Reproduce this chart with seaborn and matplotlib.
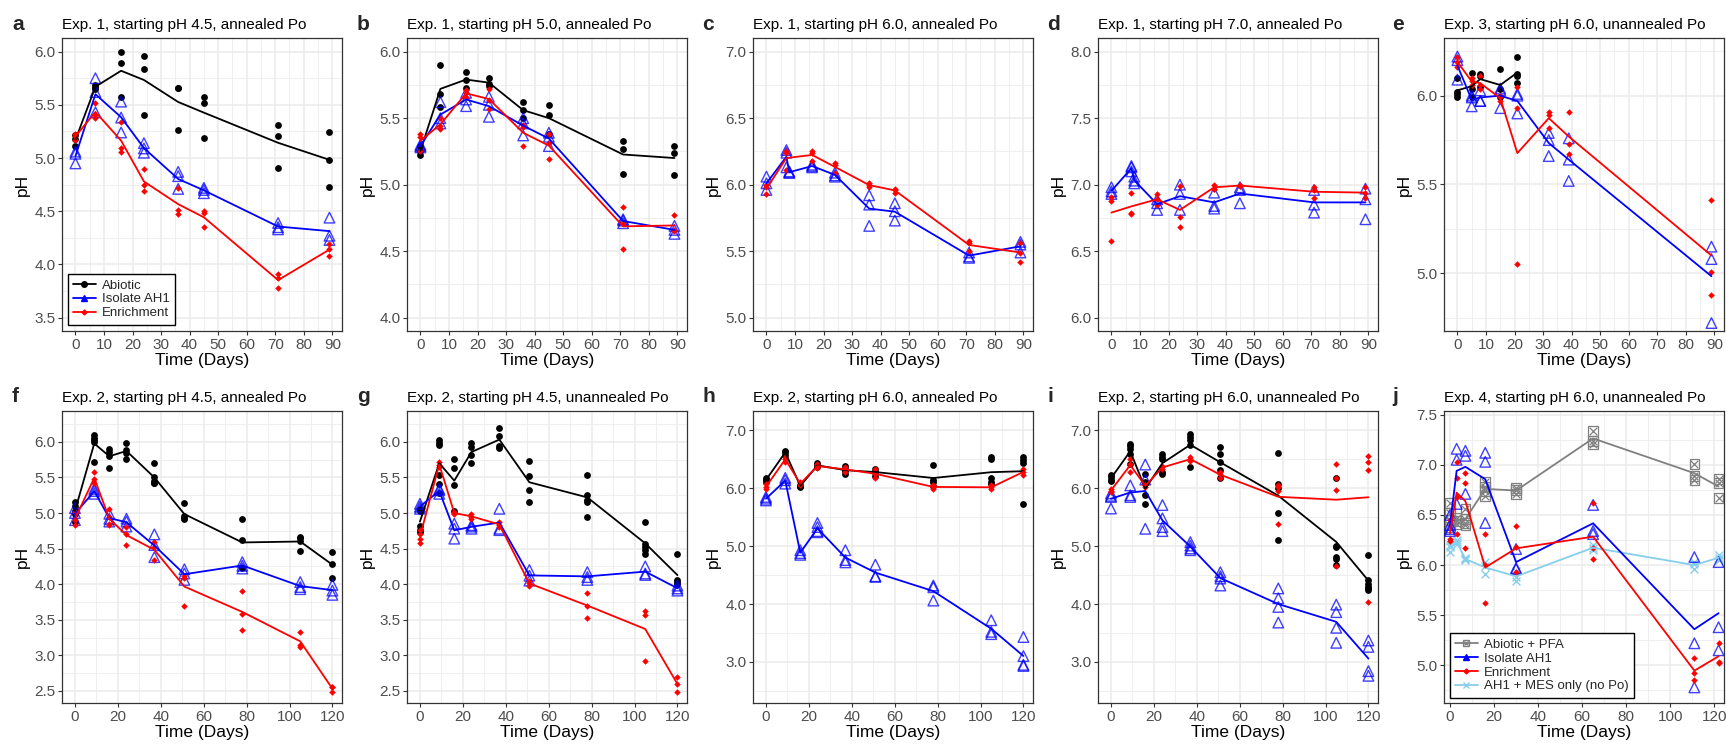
import numpy as np
import pandas as pd
import matplotlib
matplotlib.use("Agg")
import matplotlib.pyplot as plt
import seaborn as sns
from matplotlib.lines import Line2D
from matplotlib.ticker import MultipleLocator, FormatStrFormatter
from matplotlib.legend_handler import HandlerTuple

# ---------------- data ----------------
EXP1_DAYS = [0, 7, 16, 24, 36, 45, 71, 89]
EXP1_ISO_DAYS_CD = [0, 7, 8, 16, 24, 36, 45, 71, 89]
EXP3_DAYS = [0, 5, 8, 15, 21, 32, 39, 89]
EXP3_ABIO_DAYS = [0, 5, 8, 15, 21]
EXP2_DAYS = [0, 9, 16, 24, 37, 51, 78, 105, 120]
EXP4_DAYS = [0, 3, 7, 16, 30, 65, 111, 122]

A_ABIOTIC = [[5.22, 5.18, 5.11], [5.69, 5.67, 5.65], [6.00, 5.89, 5.57], [5.96, 5.84, 5.40],
             [5.66, 5.66, 5.26], [5.57, 5.52, 5.19], [5.31, 5.21, 4.91], [5.24, 4.98, 4.73]]
A_ISOLATE = [[5.06, 5.04, 4.95], [5.75, 5.62, 5.43], [5.53, 5.38, 5.24], [5.14, 5.09, 5.05],
             [4.87, 4.83, 4.71], [4.72, 4.70, 4.67], [4.39, 4.35, 4.33], [4.44, 4.27, 4.23]]
A_ENRICH = [[5.23, 5.21, 5.17], [5.52, 5.40, 5.38], [5.34, 5.09, 5.06], [4.90, 4.75, 4.69],
            [4.72, 4.51, 4.47], [4.50, 4.48, 4.35], [3.91, 3.87, 3.78], [4.19, 4.15, 4.08]]

B_ABIOTIC = [[5.29, 5.25, 5.22], [5.90, 5.68, 5.58], [5.85, 5.79, 5.73], [5.80, 5.76, 5.74],
             [5.62, 5.56, 5.50], [5.60, 5.52, 5.38], [5.33, 5.27, 5.08], [5.29, 5.24, 5.07]]
B_ISOLATE = [[5.30, 5.29, 5.28], [5.62, 5.50, 5.46], [5.69, 5.64, 5.59], [5.66, 5.60, 5.51],
             [5.50, 5.46, 5.37], [5.39, 5.36, 5.29], [4.74, 4.73, 4.71], [4.69, 4.66, 4.63]]
B_ENRICH = [[5.38, 5.36, 5.25], [5.50, 5.44, 5.42], [5.71, 5.69, 5.66], [5.72, 5.64, 5.57],
            [5.45, 5.43, 5.29], [5.38, 5.31, 5.19], [4.83, 4.71, 4.52], [4.77, 4.66, 4.65]]

C_ISOLATE = [[6.06, 6.01, 5.96], [6.26, 6.24, 6.13], [6.10, 6.09, 6.09], [6.15, 6.14, 6.13],
             [6.09, 6.07, 6.06], [5.92, 5.85, 5.69], [5.86, 5.80, 5.73], [5.49, 5.46, 5.45],
             [5.57, 5.55, 5.49]]
C_ENRICH = [[6.00, 5.98, 5.93], [6.25, 6.24, 6.11], [6.25, 6.24, 6.18], [6.16, 6.15, 6.09],
            [6.01, 6.00, 5.98], [5.97, 5.96, 5.94], [5.58, 5.56, 5.50], [5.56, 5.49, 5.42]]

D_ISOLATE = [[6.98, 6.95, 6.93], [7.14, 7.13, 7.10], [7.06, 7.03, 7.01], [6.89, 6.86, 6.81],
             [7.00, 6.93, 6.81], [6.94, 6.84, 6.82], [6.98, 6.96, 6.86], [6.96, 6.85, 6.79],
             [6.97, 6.89, 6.74]]
D_ENRICH = [[6.91, 6.88, 6.58], [6.94, 6.79, 6.78], [6.93, 6.89, 6.85], [6.99, 6.76, 6.68],
            [7.00, 6.97, 6.97], [7.00, 6.99, 6.99], [6.98, 6.96, 6.90], [6.98, 6.94, 6.90]]

E_ABIOTIC = [[6.10, 6.02, 6.01, 5.99], [6.13, 6.04, 5.99], [6.12, 6.11, 6.05],
             [6.15, 6.04, 5.99], [6.22, 6.12, 6.11, 6.07]]
E_ISOLATE = [[6.22, 6.20, 6.09], [6.00, 5.99, 5.94], [6.03, 5.97, 5.97], [6.04, 6.03, 5.93],
             [6.01, 6.00, 5.90], [5.79, 5.75, 5.66], [5.76, 5.64, 5.52], [5.15, 5.08, 4.72]]
E_ENRICH = [[6.22, 6.19, 6.16], [6.10, 6.08, 6.06], [6.11, 6.06, 6.04], [6.00, 5.99, 5.97],
            [6.05, 5.93, 5.05], [5.91, 5.89, 5.82], [5.91, 5.73, 5.67], [5.41, 5.01, 4.88]]

F_ABIOTIC = [[5.16, 5.10, 5.03, 4.98, 4.88], [6.09, 6.06, 6.02, 6.00, 5.72], [5.90, 5.86, 5.80, 5.63],
             [5.99, 5.89, 5.85, 5.76], [5.71, 5.50, 5.45, 5.42, 5.42], [5.14, 4.96, 4.93, 4.91],
             [4.91, 4.62, 4.23], [4.67, 4.65, 4.61, 4.47], [4.45, 4.28, 4.09]]
F_ISOLATE = [[5.07, 5.00, 4.90], [5.34, 5.31, 5.27], [4.99, 4.92, 4.88], [4.92, 4.88, 4.81],
             [4.70, 4.55, 4.38], [4.21, 4.15, 4.06], [4.31, 4.26, 4.22], [4.03, 3.96, 3.93],
             [3.99, 3.91, 3.85]]
F_ENRICH = [[5.02, 4.90, 4.83], [5.58, 5.48, 5.42], [5.05, 4.95, 4.85, 4.83], [4.81, 4.71, 4.55],
            [4.59, 4.52, 4.34], [4.09, 4.12, 3.69], [3.90, 3.58, 3.35], [3.33, 3.14, 3.12],
            [2.56, 2.55, 2.48]]

G_ABIOTIC = [[5.05, 5.03, 4.82, 4.76, 4.74], [6.02, 5.99, 5.96, 5.54, 5.41, 5.28],
             [5.76, 5.64, 5.39, 5.03], [5.99, 5.93, 5.81, 5.70], [6.19, 6.08, 5.94, 5.92],
             [5.73, 5.52, 5.32, 5.16], [5.54, 5.26, 5.19, 5.16, 4.95],
             [4.87, 4.57, 4.52, 4.48, 4.43], [4.42, 4.06, 4.03, 4.00]]
G_ISOLATE = [[5.13, 5.09, 5.06], [5.34, 5.32, 5.27], [4.85, 4.78, 4.64], [4.83, 4.81, 4.78],
             [5.06, 4.78, 4.76], [4.20, 4.12, 4.05], [4.17, 4.10, 4.06], [4.25, 4.15, 4.13],
             [3.98, 3.94, 3.91]]
G_ENRICH = [[4.76, 4.70, 4.64, 4.58], [5.72, 5.68, 5.65], [5.02, 5.00, 4.98], [4.99, 4.95, 4.92],
            [4.88, 4.83, 4.81], [4.04, 4.01, 3.98], [3.88, 3.70, 3.52], [3.62, 3.57, 2.92],
            [2.70, 2.60, 2.49]]

H_ABIOTIC = [[6.18, 6.14, 6.11], [6.65, 6.63, 6.58], [6.06, 6.04, 6.02], [6.43, 6.40, 6.36],
             [6.38, 6.33, 6.29, 6.25], [6.34, 6.28, 6.22], [6.41, 6.15, 6.11, 6.04],
             [6.54, 6.50, 6.17, 6.11, 6.07], [6.54, 6.48, 6.44, 5.72]]
H_ISOLATE = [[5.85, 5.82, 5.79], [6.18, 6.14, 6.08], [4.93, 4.88, 4.85], [5.40, 5.33, 5.26, 5.24],
             [4.93, 4.76, 4.72], [4.68, 4.48, 4.47], [4.32, 4.29, 4.06], [3.72, 3.52, 3.48],
             [3.43, 3.10, 2.95, 2.93]]
H_ENRICH = [[6.08, 6.02, 5.98], [6.54, 6.51, 6.45], [6.11, 6.08, 6.05], [6.42, 6.38, 6.35],
            [6.37, 6.33, 6.28], [6.33, 6.25, 6.17], [6.06, 6.02, 5.99], [6.05, 6.02, 5.98],
            [6.34, 6.28, 6.23]]

I_ABIOTIC = [[6.23, 6.19, 6.15, 6.12], [6.77, 6.73, 6.68, 6.60, 6.42], [6.25, 6.11, 5.88, 5.73],
             [6.60, 6.54, 6.50, 6.28, 6.25], [6.94, 6.88, 6.83, 6.74, 6.37],
             [6.71, 6.60, 6.45, 6.31, 6.17], [6.61, 6.08, 6.00, 5.57, 5.10],
             [6.18, 5.01, 4.99, 4.81, 4.78, 4.67], [4.85, 4.41, 4.35, 4.30, 4.27, 4.24]]
I_ISOLATE = [[5.91, 5.87, 5.85, 5.65], [6.05, 5.88, 5.85], [6.41, 6.15, 5.30],
             [5.71, 5.48, 5.33, 5.26], [5.07, 5.01, 4.96, 4.93], [4.55, 4.48, 4.44, 4.32],
             [4.27, 4.10, 3.95, 3.68], [3.99, 3.86, 3.59, 3.33], [3.37, 3.26, 2.84, 2.76]]
I_ENRICH = [[5.99, 5.96, 5.94], [6.50, 6.42, 6.28], [6.06, 6.05, 6.02], [6.38, 6.36, 6.34],
            [6.54, 6.50, 6.47], [6.28, 6.25, 6.17], [6.05, 6.02, 5.95, 5.39],
            [6.42, 6.17, 5.97, 4.65], [6.56, 6.46, 6.32, 4.04]]

J_PFA = [[6.62, 6.52, 6.45, 6.38], [6.47, 6.44, 6.41], [6.56, 6.46, 6.42, 6.40],
         [6.83, 6.78, 6.74, 6.69], [6.77, 6.75, 6.71], [7.34, 7.24, 7.21], [7.01, 6.89, 6.85],
         [6.86, 6.82, 6.67]]
J_ISOLATE = [[6.50, 6.40, 6.36, 6.34], [7.16, 7.05, 6.61], [7.14, 7.09, 6.71], [7.12, 7.03, 6.42],
             [6.16, 5.97, 5.96], [6.60, 6.34, 6.31], [6.08, 5.22, 4.78], [6.03, 5.38, 5.15]]
J_ENRICH = [[6.45, 6.26, 6.24], [7.03, 6.87, 6.68, 6.31], [6.92, 6.82, 6.17], [6.31, 6.00, 5.62],
            [6.39, 6.18, 5.93], [6.62, 6.17, 6.06], [5.07, 4.92, 4.85], [5.22, 5.03, 5.02]]
J_MES = [[6.20, 6.18, 6.13], [6.25, 6.23, 6.21], [6.07, 6.06, 6.05], [6.03, 5.99, 5.91],
         [5.94, 5.88, 5.84], [6.20, 6.17, 6.15], [6.03, 6.01, 5.96], [6.10, 6.07, 6.05]]

LETTERS = ["a", "b", "c", "d", "e", "f", "g", "h", "i", "j"]
TITLES = ["Exp. 1, starting pH 4.5, annealed Po", "Exp. 1, starting pH 5.0, annealed Po",
          "Exp. 1, starting pH 6.0, annealed Po", "Exp. 1, starting pH 7.0, annealed Po",
          "Exp. 3, starting pH 6.0, unannealed Po", "Exp. 2, starting pH 4.5, annealed Po",
          "Exp. 2, starting pH 4.5, unannealed Po", "Exp. 2, starting pH 6.0, annealed Po",
          "Exp. 2, starting pH 6.0, unannealed Po", "Exp. 4, starting pH 6.0, unannealed Po"]
LEGEND_1 = ["Abiotic", "Isolate AH1", "Enrichment"]
LEGEND_4 = ["Abiotic + PFA", "Isolate AH1", "Enrichment", "AH1 + MES only (no Po)"]

PANEL_SERIES = [
    [("abiotic", EXP1_DAYS, A_ABIOTIC), ("isolate", EXP1_DAYS, A_ISOLATE), ("enrich", EXP1_DAYS, A_ENRICH)],
    [("abiotic", EXP1_DAYS, B_ABIOTIC), ("isolate", EXP1_DAYS, B_ISOLATE), ("enrich", EXP1_DAYS, B_ENRICH)],
    [("isolate", EXP1_ISO_DAYS_CD, C_ISOLATE), ("enrich", EXP1_DAYS, C_ENRICH)],
    [("isolate", EXP1_ISO_DAYS_CD, D_ISOLATE), ("enrich", EXP1_DAYS, D_ENRICH)],
    [("abiotic", EXP3_ABIO_DAYS, E_ABIOTIC), ("isolate", EXP3_DAYS, E_ISOLATE), ("enrich", EXP3_DAYS, E_ENRICH)],
    [("abiotic", EXP2_DAYS, F_ABIOTIC), ("isolate", EXP2_DAYS, F_ISOLATE), ("enrich", EXP2_DAYS, F_ENRICH)],
    [("abiotic", EXP2_DAYS, G_ABIOTIC), ("isolate", EXP2_DAYS, G_ISOLATE), ("enrich", EXP2_DAYS, G_ENRICH)],
    [("abiotic", EXP2_DAYS, H_ABIOTIC), ("isolate", EXP2_DAYS, H_ISOLATE), ("enrich", EXP2_DAYS, H_ENRICH)],
    [("abiotic", EXP2_DAYS, I_ABIOTIC), ("isolate", EXP2_DAYS, I_ISOLATE), ("enrich", EXP2_DAYS, I_ENRICH)],
    [("pfa", EXP4_DAYS, J_PFA), ("mes", EXP4_DAYS, J_MES), ("isolate", EXP4_DAYS, J_ISOLATE), ("enrich", EXP4_DAYS, J_ENRICH)],
]

# ---------------- layout / style ----------------
W, H = 1726, 745
YLIMS = [(3.375, 6.125), (3.9, 6.1), (4.9, 7.1), (5.9, 8.1), (4.675, 6.323),
         (2.33, 6.43), (2.33, 6.43), (2.29, 7.33), (2.29, 7.33), (4.624, 7.534)]
YSTEP = [0.5, 0.5, 0.5, 0.5, 0.5, 0.5, 0.5, 1.0, 1.0, 0.5]
XLIM_TOP = (-4.6, 93.5)
XLIM_BOT = (-5.9, 124.6)
XLIM_J = (-2.6, 124.6)
LEFTS = [62.3, 407.3, 753.3, 1098.3, 1444.3]
AX_W = 280.0

COL = {"abiotic": "#000000", "isolate": "#0000FF", "enrich": "#FF0000",
       "pfa": "#808080", "mes": "#87CEEB"}

sns.set_theme(style="white")
plt.rcParams["font.family"] = ["Liberation Sans", "DejaVu Sans"]

fig = plt.figure(figsize=(W / 100, H / 100), dpi=100)
fig.patch.set_facecolor("white")


def long_df(days, reps):
    xs, ys = [], []
    for d, vals in zip(days, reps):
        xs += [d] * len(vals)
        ys += list(vals)
    return pd.DataFrame({"day": xs, "pH": ys})


def draw(ax, kind, days, reps):
    df = long_df(days, reps)
    c = COL[kind]
    if kind == "abiotic":
        sns.scatterplot(data=df, x="day", y="pH", ax=ax, marker="o", s=24, color=c,
                        edgecolor=c, linewidth=0, zorder=3)
    elif kind == "isolate":
        sns.scatterplot(data=df, x="day", y="pH", ax=ax, marker="^", s=58, facecolor="none",
                        edgecolor=c, linewidth=1.0, alpha=0.75, zorder=3)
    elif kind == "enrich":
        sns.scatterplot(data=df, x="day", y="pH", ax=ax, marker="D", s=11, color=c,
                        edgecolor=c, linewidth=0, zorder=3)
    elif kind == "pfa":
        sns.scatterplot(data=df, x="day", y="pH", ax=ax, marker="s", s=48, facecolor="none",
                        edgecolor=c, linewidth=0.9, zorder=3)
        sns.scatterplot(data=df, x="day", y="pH", ax=ax, marker="x", s=30, color=c,
                        edgecolor=c, linewidth=0.9, zorder=3)
    elif kind == "mes":
        sns.scatterplot(data=df, x="day", y="pH", ax=ax, marker="x", s=32, color=c,
                        edgecolor=c, linewidth=1.0, zorder=3)
    sns.lineplot(data=df, x="day", y="pH", ax=ax, estimator="mean", errorbar=None,
                 color=c, linewidth=1.3, zorder=4)


for i in range(10):
    row, col = divmod(i, 5)
    if row == 0:
        top, bot = 38.3, 331.0
    else:
        top, bot = 411.3, 703.0
    ax = fig.add_axes([LEFTS[col] / W, 1 - bot / H, AX_W / W, (bot - top) / H])
    ax.set_facecolor("white")
    for kind, days, reps in PANEL_SERIES[i]:
        draw(ax, kind, days, reps)

    if row == 0:
        ax.set_xlim(*XLIM_TOP)
        ax.xaxis.set_major_locator(MultipleLocator(10))
        ax.xaxis.set_minor_locator(MultipleLocator(5))
    else:
        ax.set_xlim(*(XLIM_J if i == 9 else XLIM_BOT))
        ax.xaxis.set_major_locator(MultipleLocator(20))
        ax.xaxis.set_minor_locator(MultipleLocator(10))
    ax.set_ylim(*YLIMS[i])
    ax.yaxis.set_major_locator(MultipleLocator(YSTEP[i]))
    ax.yaxis.set_minor_locator(MultipleLocator(YSTEP[i] / 2))
    ax.yaxis.set_major_formatter(FormatStrFormatter("%.1f"))

    ax.grid(True, which="major", color="#EBEBEB", linewidth=1.1, zorder=0)
    ax.grid(True, which="minor", color="#EBEBEB", linewidth=0.55, zorder=0)
    ax.set_axisbelow(True)
    for sp in ax.spines.values():
        sp.set_color("#333333")
        sp.set_linewidth(0.9)
    ax.tick_params(which="major", direction="out", length=3, width=0.8, color="#333333",
                   labelcolor="#4D4D4D", labelsize=11, pad=2, bottom=True, left=True)
    ax.tick_params(which="minor", length=0)
    ax.set_xlabel("Time (Days)", fontsize=12.5, labelpad=1, color="black")
    ax.set_ylabel("pH", fontsize=12.5, labelpad=3, color="black")
    ax.set_title(TITLES[i], loc="left", fontsize=11, pad=7, color="black")
    ly = 24 if row == 0 else 396
    fig.text(12 / W + col * 345 / W, 1 - ly / H, LETTERS[i], fontsize=15, fontweight="bold",
             ha="left", va="center")

    if i == 0:
        handles = [Line2D([], [], color=COL["abiotic"], marker="o", ms=4, lw=1.3),
                   Line2D([], [], color=COL["isolate"], marker="^", ms=5, lw=1.3),
                   Line2D([], [], color=COL["enrich"], marker="D", ms=2.5, lw=1.3)]
        leg = ax.legend(handles, LEGEND_1, loc="lower left", bbox_to_anchor=(0.02, 0.022),
                        borderaxespad=0, fontsize=9.5, frameon=True, fancybox=False,
                        edgecolor="black", framealpha=1, handlelength=1.7, handletextpad=0.5,
                        labelspacing=0.12, borderpad=0.4)
        leg.get_frame().set_linewidth(1.0)
    if i == 9:
        pfa_line = Line2D([], [], color=COL["pfa"], marker="s", ms=4.5, mfc="none", lw=1.3)
        pfa_x = Line2D([], [], color=COL["pfa"], marker="x", ms=3.5, lw=0)
        handles = [(pfa_line, pfa_x),
                   Line2D([], [], color=COL["isolate"], marker="^", ms=5, lw=1.3),
                   Line2D([], [], color=COL["enrich"], marker="D", ms=2.5, lw=1.3),
                   Line2D([], [], color=COL["mes"], marker="x", ms=4, lw=1.3)]
        leg = ax.legend(handles, LEGEND_4, loc="lower left", bbox_to_anchor=(0.02, 0.018),
                        borderaxespad=0, fontsize=9.5, frameon=True, fancybox=False,
                        edgecolor="black", framealpha=1, handlelength=1.7, handletextpad=0.5,
                        labelspacing=0.12, borderpad=0.4,
                        handler_map={tuple: HandlerTuple(ndivide=1)})
        leg.get_frame().set_linewidth(1.0)

fig.savefig("out.png", dpi=100, facecolor="white")
